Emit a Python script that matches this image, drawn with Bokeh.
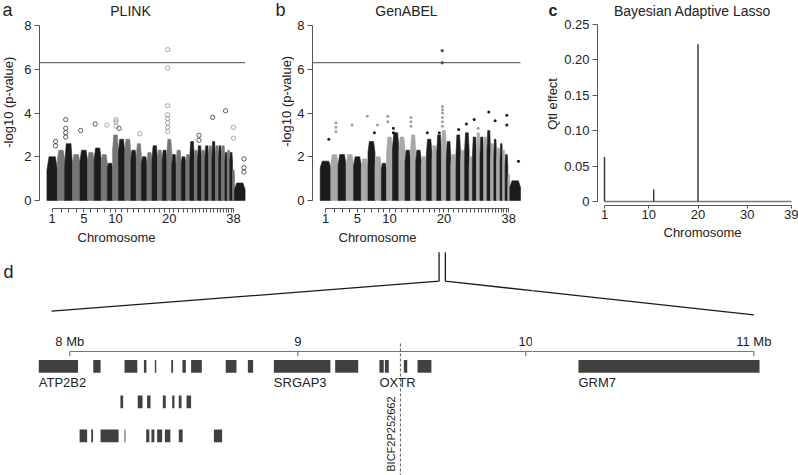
import math
from bokeh.plotting import figure
from bokeh.models import Range1d, FixedTicker
from bokeh.layouts import column, row
from bokeh.embed import file_html
from bokeh.resources import INLINE
from bokeh.core.properties import value

FONT = "Liberation Sans"
INK = "#222222"
AXIS = "#555555"

# ---------------- data ----------------
chrom_names = [str(i) for i in range(1, 39)] + ["X"]
chrom_len_mb = [123, 85, 92, 88, 89, 78, 81, 74, 61, 69, 74, 72, 63, 61, 64, 60, 64, 56, 54, 58,
                51, 61, 52, 48, 52, 39, 46, 41, 42, 40, 40, 39, 31, 42, 27, 31, 31, 24, 124]
chrom_tick_labels = {"1": "1", "5": "5", "10": "10", "20": "20", "38": "38"}
threshold = 6.3

# PLINK: dense part and crest of each chromosome column (-log10 p)
plink_bulk = [1.4, 1.9, 1.6, 1.7, 1.8, 1.8, 1.9, 1.7, 1.5, 2.3, 2.2, 2.2, 1.9, 2.0, 1.7, 1.8, 1.9, 1.8, 1.9, 2.2,
              1.6, 1.8, 1.7, 1.7, 2.0, 1.8, 1.9, 1.9, 2.0, 2.0, 2.0, 2.0, 2.0, 2.0, 1.8, 1.9, 1.8, 1.1, 0.5]
plink_crest = [2.0, 2.3, 2.6, 2.1, 2.3, 2.2, 2.4, 2.1, 1.7, 3.0, 2.8, 2.8, 2.3, 2.6, 2.0, 2.2, 2.5, 2.3, 2.3, 2.8,
               2.1, 2.3, 2.0, 2.1, 2.7, 2.3, 2.5, 2.3, 2.5, 2.5, 2.7, 2.5, 2.5, 2.5, 2.2, 2.3, 2.2, 1.4, 0.8]
plink_out_chr = ["1", "1", "3", "3", "3", "3", "5", "7", "8", "10", "10", "10", "11", "14",
                 "20", "20", "20", "20", "20", "20", "20", "20", "27", "27", "31", "35", "38", "38", "X", "X", "X"]
plink_out_pos = [100, 100, 12, 12, 12, 12, 8, 11, 68, 40, 40, 42, 8, 40,
                 9.45, 9.45, 9, 9, 9, 9, 9, 9, 17, 17, 8, 7, 12, 12, 110, 110, 110]
plink_out_val = [2.7, 2.5, 3.7, 3.3, 3.1, 2.9, 3.2, 3.5, 3.45, 3.7, 3.6, 3.4, 3.3, 3.05,
                 6.9, 6.05, 4.33, 3.92, 3.75, 3.55, 3.35, 3.15, 2.98, 2.75, 3.8, 4.1, 3.35, 2.85, 1.9, 1.5, 1.3]

# GenABEL
genabel_bulk = [1.5, 1.7, 1.6, 1.6, 1.6, 1.5, 2.2, 1.6, 1.4, 2.2, 2.4, 2.3, 1.8, 2.3, 1.8, 1.6, 2.1, 1.8, 2.2, 2.4,
                2.0, 1.6, 2.2, 1.8, 2.3, 1.5, 2.1, 2.2, 2.0, 2.1, 2.3, 1.9, 2.0, 1.8, 1.9, 1.7, 1.6, 0.9, 0.6]
genabel_crest = [1.8, 2.1, 2.1, 2.1, 2.0, 1.9, 2.7, 2.0, 1.7, 2.9, 3.1, 2.9, 2.3, 3.0, 2.3, 2.0, 2.8, 2.5, 3.0, 3.2,
                 2.7, 2.1, 3.0, 2.3, 3.1, 2.0, 2.9, 3.1, 2.9, 2.9, 3.2, 2.6, 2.8, 2.4, 2.6, 2.3, 2.1, 1.2, 0.9]
genabel_out_chr = ["1", "2", "2", "2", "4", "6", "7", "8", "10", "10", "11", "11", "14", "14", "14", "17", "19",
                   "20", "20", "20", "20", "20", "20", "23", "25", "27", "28", "31", "33", "37", "37", "X"]
genabel_out_pos = [100, 60, 60, 60, 70, 70, 75, 30, 15, 15, 10, 10, 5, 5, 5, 10, 30,
                   12, 12, 12, 12, 12, 12, 30, 20, 20, 20, 20, 15, 20, 20, 100]
genabel_out_val = [2.8, 3.55, 3.35, 3.15, 3.45, 3.85, 3.1, 3.45, 3.85, 3.6, 3.3, 3.1, 3.8, 3.6, 3.4, 3.1, 3.1,
                   4.3, 4.15, 4.0, 3.8, 3.6, 3.4, 3.25, 3.5, 3.7, 3.3, 4.05, 3.65, 3.9, 3.45, 1.8]
top_snp_chr = "20"
top_snp_pos = 9.45
genabel_top_val = [6.85, 6.3]

# Bayesian adaptive lasso
bal_chr = [1, 11, 20]
bal_effect = [0.063, 0.017, 0.222]
bal_x_ticks = [1, 10, 20, 30, 39]
bal_y_ticks = [0, 0.05, 0.10, 0.15, 0.20, 0.25]
bal_y_labels = ["0", "0.05", "0.10", "0.15", "0.20", "0.25"]

# Region on chromosome 20 (Mb)
gene_start = [7.864, 8.103, 8.240, 8.325, 8.373, 8.445, 8.494, 8.532, 8.684, 8.781, 8.895, 9.164, 9.358, 9.382,
              9.465, 9.525, 10.231,
              8.222, 8.298, 8.339, 8.408, 8.449, 8.478, 8.512,
              8.043, 8.094, 8.135, 8.240, 8.335, 8.358, 8.383, 8.417, 8.478, 8.632]
gene_end = [8.036, 8.135, 8.296, 8.336, 8.379, 8.453, 8.509, 8.579, 8.731, 8.804, 9.143, 9.265, 9.377, 9.399,
            9.480, 9.586, 11.025,
            8.234, 8.319, 8.354, 8.421, 8.459, 8.490, 8.532,
            8.076, 8.102, 8.214, 8.244, 8.349, 8.371, 8.405, 8.441, 8.495, 8.668]
gene_row = [0] * 17 + [1] * 7 + [2] * 10
gene_name = ["ATP2B2", "", "", "", "", "", "", "", "", "", "SRGAP3", "", "OXTR", "", "", "", "GRM7"] + [""] * 17
snp_name = "BICF2P252662"
snp_pos = 9.450
scale_ticks = [8, 9, 10, 11]
scale_labels = ["8 Mb", "9", "10", "11 Mb"]
region_mb = [7.92, 11.0]

# ---------------- layout helpers (page pixels) ----------------
TOP_H = 229      # height of panels a and b
C_H = 224        # height of panel c
PAGE_W = 798
PAGE_H = 475
SPLIT_X = 532    # left edge of panel c column


def make_fig(fx0, fx1, H, l, r, t, b, xmap, ymap):
    W = fx1 - fx0
    p = figure(width=W, height=H, x_range=Range1d(xmap(l), xmap(r)),
               y_range=Range1d(ymap(b), ymap(t)), output_backend="svg",
               toolbar_location=None, title=None, min_border_left=l - fx0, min_border_right=fx1 - r,
               min_border_top=t, min_border_bottom=H - b)
    p.outline_line_color = None
    p.grid.visible = False
    return p


def make_strip(fx0, fx1, y0, y1):
    p = figure(width=fx1 - fx0, height=y1 - y0, x_range=Range1d(fx0, fx1), y_range=Range1d(-y1, -y0),
               output_backend="svg", toolbar_location=None, title=None, min_border=0,
               x_axis_location=None, y_axis_location=None)
    p.outline_line_color = None
    p.grid.visible = False
    return p


def add_text(p, x, y, text, size, align="left", angle=0.0, bold=False, baseline="middle"):
    p.text(x=[x], y=[y], text=[text], text_font=value(FONT), text_font_size=f"{size}px",
           text_align=align, text_baseline=baseline, angle=angle, text_color=INK,
           text_font_style="bold" if bold else "normal")


def style_axis(ax, tick_out=4, standoff=2, size=13):
    ax.axis_line_color = AXIS
    ax.axis_line_width = 1
    ax.major_tick_line_color = AXIS
    ax.minor_tick_line_color = None
    ax.major_tick_in = 0
    ax.major_tick_out = tick_out
    ax.major_label_standoff = standoff
    ax.major_label_text_font = FONT
    ax.major_label_text_font_size = f"{size}px"
    ax.major_label_text_color = INK


starts = []
acc = 0.0
for L in chrom_len_mb:
    starts.append(acc)
    acc += L
genome_end = acc
centers = [s + L / 2.0 for s, L in zip(starts, chrom_len_mb)]
cidx = {n: i for i, n in enumerate(chrom_names)}
c1, c38 = centers[0], centers[37]


def manhattan(p, bulk, crest, black, gray):
    xs, ys, cols = [], [], []
    for i, (s, L) in enumerate(zip(starts, chrom_len_mb)):
        xs.append([s, s, s + 0.2 * L, s + 0.8 * L, s + L, s + L])
        ys.append([0, bulk[i], crest[i], crest[i], bulk[i], 0])
        cols.append(black if i % 2 == 0 else gray)
    p.patches(xs=xs, ys=ys, fill_color=cols, line_color=cols, line_width=0.6)


def chrom_axes(p):
    p.yaxis.bounds = (0, 8)
    p.yaxis.ticker = FixedTicker(ticks=[0, 2, 4, 6, 8])
    style_axis(p.yaxis, tick_out=5, standoff=3)
    p.xaxis.bounds = (c1, c38)
    p.xaxis.ticker = FixedTicker(ticks=centers[:38])
    p.xaxis.major_label_overrides = {centers[i]: chrom_tick_labels.get(chrom_names[i], "") for i in range(38)}
    style_axis(p.xaxis, tick_out=4, standoff=1)


# ---------------- panel a ----------------
ka = (233.0 - 51.7) / (c38 - c1)


def xa(R):
    return c1 + (R - 51.7) / ka


def ya(R):
    return (200.0 - R) / 21.875


pa = make_fig(20, 262, TOP_H, 39, 249, 0, 208, xa, ya)
chrom_axes(pa)
pa.line(x=[pa.x_range.start, genome_end], y=[threshold, threshold], line_color="#6e6e6e", line_width=1.2)
manhattan(pa, plink_bulk, plink_crest, "#1c1c1c", "#767676")
ox = [starts[cidx[c]] + pos for c, pos in zip(plink_out_chr, plink_out_pos)]
oc = ["#2a2a2a" if cidx[c] % 2 == 0 else "#8a8a8a" for c in plink_out_chr]
pa.scatter(x=ox, y=plink_out_val, marker="circle", size=4.3, fill_color=None, line_color=oc, line_width=0.75)
add_text(pa, xa(130), ya(10.5), "PLINK", 14, align="center")

# ---------------- panel b ----------------
kb = (508.3 - 325.0) / (c38 - c1)


def xb(R):
    return c1 + (R - 325.0) / kb


pb = make_fig(294, 532, TOP_H, 312, 524, 0, 208, xb, ya)
chrom_axes(pb)
pb.line(x=[pb.x_range.start, genome_end], y=[threshold, threshold], line_color="#6e6e6e", line_width=1.2)
manhattan(pb, genabel_bulk, genabel_crest, "#1c1c1c", "#a8a8a8")
gx = [starts[cidx[c]] + pos for c, pos in zip(genabel_out_chr, genabel_out_pos)]
gc = ["#1c1c1c" if cidx[c] % 2 == 0 else "#a0a0a0" for c in genabel_out_chr]
pb.scatter(x=gx, y=genabel_out_val, marker="circle", size=3.0, fill_color=gc, line_color=None)
top_x = starts[cidx[top_snp_chr]] + top_snp_pos
pb.scatter(x=[top_x] * len(genabel_top_val), y=genabel_top_val, marker="circle", size=3.4,
           fill_color="#555555", line_color=None)
add_text(pb, xb(406), ya(10.5), "GenABEL", 14, align="center")

# ---------------- panel c ----------------
kc = (791.0 - 604.0) / 38.0


def xc(R):
    return 1 + (R - 604.0) / kc


def yc(R):
    return (201.0 - R) / 708.0


pc = make_fig(560, PAGE_W, C_H, 597, 796, 0, 205, xc, yc)
pc.yaxis.bounds = (0, 0.25)
pc.yaxis.ticker = FixedTicker(ticks=bal_y_ticks)
pc.yaxis.major_label_overrides = {t: s for t, s in zip(bal_y_ticks, bal_y_labels)}
style_axis(pc.yaxis, tick_out=5, standoff=3)
pc.xaxis.bounds = (bal_x_ticks[0], bal_x_ticks[-1])
pc.xaxis.ticker = FixedTicker(ticks=bal_x_ticks)
style_axis(pc.xaxis, tick_out=3, standoff=1)
pc.line(x=[bal_x_ticks[0], bal_x_ticks[-1]], y=[0, 0], line_color="#777777", line_width=1.5)
pc.segment(x0=bal_chr, y0=[0] * len(bal_chr), x1=bal_chr, y1=bal_effect, line_color="#333333", line_width=1.4)
add_text(pc, xc(692), yc(10.5), "Bayesian Adaptive Lasso", 14, align="center")

# ---------------- side strips (panel letters, y-axis titles) ----------------
sa = make_strip(0, 20, 0, TOP_H)
add_text(sa, 2, -10.5, "a", 18)
add_text(sa, 8, -112, "-log10 (p-value)", 13, align="center", angle=math.pi / 2)
sb = make_strip(262, 294, 0, TOP_H)
add_text(sb, 275, -10.5, "b", 18)
add_text(sb, 286, -111, "-log10 (p-value)", 13, align="center", angle=math.pi / 2)
sc = make_strip(SPLIT_X, 560, 0, C_H)
add_text(sc, 548, -10.5, "c", 16, bold=True)
add_text(sc, 552, -113, "Qtl effect", 13, align="center", angle=math.pi / 2)

# ---------------- panel d (two halves sharing one mapping) ----------------
kd = 228.0


def xd(R):
    return 8 + (R - 69.3) / kd


def Rd(mb):
    return 69.3 + (mb - 8) * kd


def yd(R):
    return -R


def d_fig(x0, x1, top):
    p = figure(width=x1 - x0, height=PAGE_H - top, x_range=Range1d(xd(x0), xd(x1)),
               y_range=Range1d(-PAGE_H, -top), output_backend="svg", toolbar_location=None, title=None,
               min_border=0, x_axis_location=None, y_axis_location=None)
    p.outline_line_color = None
    p.grid.visible = False
    return p


dl = d_fig(0, SPLIT_X, TOP_H)
dr = d_fig(SPLIT_X, PAGE_W, C_H)
halves = [dl, dr]


def side(R):
    return dl if R < SPLIT_X else dr


# x-axis titles of the panels above
add_text(dl, xd(116), yd(236.5), "Chromosome", 13, align="center")
add_text(dl, xd(377), yd(236.5), "Chromosome", 13, align="center")
add_text(dr, xd(702), yd(231.5), "Chromosome", 13, align="center")
add_text(dl, xd(3), yd(271.5), "d", 18)

row_top = [359.5, 395.0, 429.0]
gene_h = 12.7
Rb = 325.0 + (top_x - c1) * kb
gap = 3.15
for p in halves:
    p.quad(left=gene_start, right=gene_end, top=[yd(row_top[r]) for r in gene_row],
           bottom=[yd(row_top[r] + gene_h) for r in gene_row], fill_color="#404040", line_color=None)
    # scale bar
    p.segment(x0=[scale_ticks[0]], y0=[yd(351)], x1=[scale_ticks[-1]], y1=[yd(351)], line_color="#777777",
              line_width=1.2)
    p.segment(x0=scale_ticks, y0=[yd(351)] * 4, x1=scale_ticks, y1=[yd(355.5)] * 4, line_color="#777777",
              line_width=1.2)
    # zoom connector from panel b (chromosome 20 hit) to the region
    p.line(x=[xd(Rb - gap), xd(Rb - gap), region_mb[0]], y=[yd(251.7), yd(280.7), yd(310.7)],
           line_color="#1a1a1a", line_width=1.3)
    p.line(x=[xd(Rb + gap), xd(Rb + gap), region_mb[1]], y=[yd(251.7), yd(280.7), yd(314.3)],
           line_color="#1a1a1a", line_width=1.3)

for i, n in enumerate(gene_name):
    if n:
        add_text(side(Rd(gene_start[i])), gene_start[i], yd(381.7), n, 13)
for t, s in zip(scale_ticks, scale_labels):
    add_text(side(Rd(t)), t, yd(340.5), s, 13, align="center")

# SNP marker
sp = side(Rd(snp_pos))
sp.segment(x0=[snp_pos], y0=[yd(343)], x1=[snp_pos], y1=[yd(475)], line_color="#555555", line_width=1,
           line_dash="3 2")
add_text(sp, snp_pos - 9.0 / kd, yd(396), snp_name, 11, align="right", angle=math.pi / 2)

layout = row(column(row(sa, pa, sb, pb), dl), column(row(sc, pc), dr))
open("out.html", "w").write(file_html(layout, INLINE))
